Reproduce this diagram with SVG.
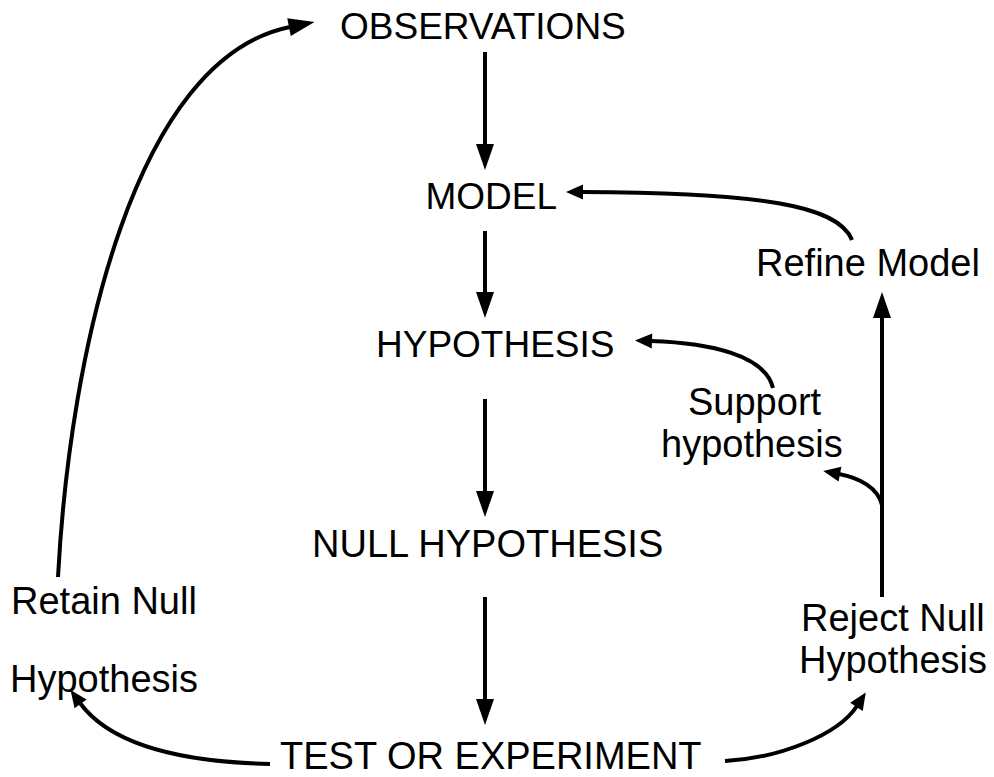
<svg xmlns="http://www.w3.org/2000/svg" width="994" height="777" viewBox="0 0 994 777">
<style>
text{font-family:"Liberation Sans",Arial,sans-serif;font-size:38px;fill:#000}
.big{font-size:37px}
.c{fill:none;stroke:#000;stroke-width:4}
.ml{marker-end:url(#ah)}
.ms{marker-end:url(#as)}
</style>
<defs>
<marker id="ah" markerUnits="userSpaceOnUse" markerWidth="27" markerHeight="18" refX="1" refY="9" orient="auto" overflow="visible">
<path d="M0,0 L26,9 L0,18 z" fill="#000"/>
</marker>
<marker id="as" markerUnits="userSpaceOnUse" markerWidth="17" markerHeight="15" refX="1" refY="7.5" orient="auto" overflow="visible">
<path d="M0,0 L17,7.5 L0,15 z" fill="#000"/>
</marker>
</defs>
<rect width="994" height="777" fill="#fff"/>
<g id="connectors">
<path class="c ml" d="M485,52 L485,145"/>
<path class="c ml" d="M485,231 L485,293"/>
<path class="c ml" d="M485,399 L485,492"/>
<path class="c ml" d="M485,597 L485,700"/>
<path class="c ml" d="M882,597 L882,317"/>
<path class="c ml" d="M58,577 C70,350 135,58 290,27"/>
<path class="c ms" d="M852,240 C838,205 760,193 582,192"/>
<path class="c ms" d="M773,388 C765,355 710,343 651,341"/>
<path class="c ms" d="M882,505 C878,488 860,478 839,474"/>
<path class="c ms" d="M270,764 C180,762 110,744 80,703"/>
<path class="c ms" d="M725,761 C780,758 838,735 857,706"/>
</g>
<g id="observations"><text class="big" x="340" y="39">OBSERVATIONS</text></g>
<g id="model"><text class="big" x="425.5" y="209">MODEL</text></g>
<g id="hypothesis"><text class="big" x="376" y="357">HYPOTHESIS</text></g>
<g id="null-hypothesis"><text x="312" y="557">NULL HYPOTHESIS</text></g>
<g id="test"><text x="280" y="769">TEST OR EXPERIMENT</text></g>
<g id="retain"><text x="11" y="614">Retain Null</text><text x="10" y="692">Hypothesis</text></g>
<g id="reject"><text x="801" y="631">Reject Null</text><text x="799" y="673">Hypothesis</text></g>
<g id="refine"><text x="756" y="276">Refine Model</text></g>
<g id="support"><text x="688" y="415">Support</text><text x="661" y="457">hypothesis</text></g>
</svg>
